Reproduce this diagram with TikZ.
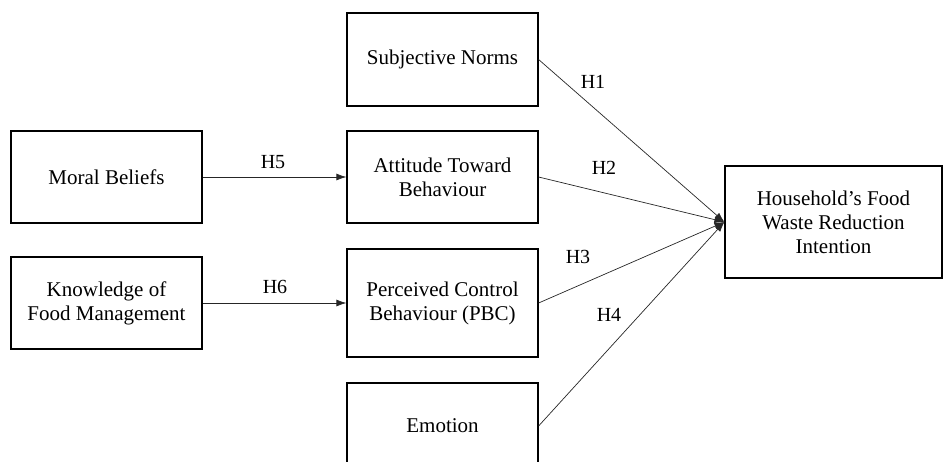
\documentclass[tikz,border=0pt]{standalone}
\usepackage{fontspec}
\setmainfont{Liberation Serif}
\usetikzlibrary{arrows.meta}

\begin{document}
\begin{tikzpicture}[x=1pt, y=-1pt,
	box/.style={draw, line width=1.2pt, rectangle, minimum width=191pt, minimum height=92pt, inner sep=0pt, align=center, font=\fontsize{21}{24}\selectfont},
	hyp/.style={inner sep=0pt, font=\fontsize{20}{24}\selectfont},
	link/.style={-{Latex[length=10pt,width=7pt]}, line width=0.7pt, black!85}]
	\useasboundingbox (0,0) rectangle (944,461);
	\node[box, minimum height=93pt] (SN) at (442.5,59.5) {Subjective Norms};
	\node[box] (ATB) at (442.5,177) {Attitude Toward\\Behaviour};
	\node[box, minimum height=108pt] (PBC) at (442.5,303) {Perceived Control\\Behaviour (PBC)};
	\node[box, minimum height=86pt] (EM) at (442.5,426) {Emotion};
	\node[box] (MB) at (106.5,177) {Moral Beliefs};
	\node[box] (KFM) at (106.5,303) {Knowledge of\\Food Management};
	\node[box, minimum width=217pt, minimum height=112pt] (HH) at (833.5,222) {Household’s Food\\Waste Reduction\\Intention};
	\draw[link] (SN.east) -- (HH.west);
	\draw[link] (ATB.east) -- (HH.west);
	\draw[link] (PBC.east) -- (HH.west);
	\draw[link] (EM.east) -- (HH.west);
	\draw[link] (MB.east) -- (ATB.west);
	\draw[link] (KFM.east) -- (PBC.west);
	\node[hyp] (h1) at (593,82) {H1};
	\node[hyp] (h2) at (604,168) {H2};
	\node[hyp] (h3) at (578,257) {H3};
	\node[hyp] (h4) at (609,315) {H4};
	\node[hyp] (h5) at (273,162) {H5};
	\node[hyp] (h6) at (275,287) {H6};
\end{tikzpicture}
\end{document}
